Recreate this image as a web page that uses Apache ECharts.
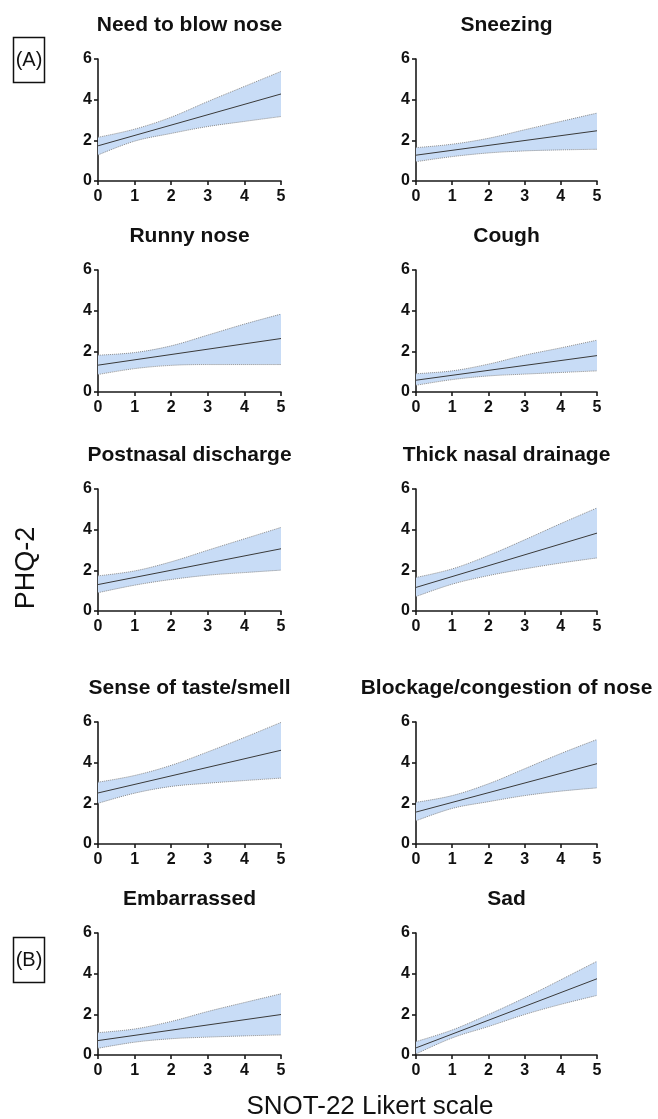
<!DOCTYPE html>
<html>
<head>
<meta charset="utf-8">
<script src="https://cdn.jsdelivr.net/npm/echarts@6/dist/echarts.min.js"></script>
<style>
html,body{margin:0;padding:0;background:#fff;}
#chart{width:658px;height:1119px;}
</style>
</head>
<body>
<div id="chart"></div>
<script>
// ---- data ----
const xTicks = ['0', '1', '2', '3', '4', '5'];
const yTicks = [0, 2, 4, 6];
const titles = [
  'Need to blow nose', 'Sneezing',
  'Runny nose', 'Cough',
  'Postnasal discharge', 'Thick nasal drainage',
  'Sense of taste/smell', 'Blockage/congestion of nose',
  'Embarrassed', 'Sad'
];
// fitted line: value at x=0 and at x=5
const meanStart = [1.73, 1.27, 1.32, 0.58, 1.30, 1.16, 2.51, 1.57, 0.71, 0.35];
const meanEnd   = [4.28, 2.47, 2.63, 1.79, 3.06, 3.83, 4.61, 3.95, 1.99, 3.75];
// confidence band, upper and lower, at x = 0..5
const upperBlowNose   = [2.15, 2.55, 3.14, 3.91, 4.65, 5.39];
const lowerBlowNose   = [1.28, 1.96, 2.34, 2.68, 2.93, 3.17];
const upperSneezing   = [1.64, 1.81, 2.10, 2.52, 2.93, 3.34];
const lowerSneezing   = [0.95, 1.20, 1.38, 1.48, 1.53, 1.56];
const upperRunny      = [1.81, 1.94, 2.27, 2.80, 3.34, 3.83];
const lowerRunny      = [0.86, 1.15, 1.31, 1.35, 1.35, 1.35];
const upperCough      = [0.90, 1.04, 1.37, 1.81, 2.17, 2.55];
const lowerCough      = [0.33, 0.61, 0.79, 0.88, 0.96, 1.04];
const upperPostnasal  = [1.73, 1.97, 2.42, 2.99, 3.55, 4.11];
const lowerPostnasal  = [0.90, 1.27, 1.55, 1.76, 1.89, 2.01];
const upperThick      = [1.65, 2.07, 2.73, 3.50, 4.30, 5.07];
const lowerThick      = [0.71, 1.32, 1.74, 2.07, 2.36, 2.61];
const upperTaste      = [3.04, 3.37, 3.87, 4.53, 5.24, 5.98];
const lowerTaste      = [2.00, 2.50, 2.83, 2.99, 3.12, 3.24];
const upperBlockage   = [2.05, 2.38, 2.96, 3.70, 4.45, 5.14];
const lowerBlockage   = [1.14, 1.75, 2.08, 2.38, 2.60, 2.76];
const upperEmbarrassed= [1.10, 1.28, 1.65, 2.14, 2.58, 3.01];
const lowerEmbarrassed= [0.33, 0.63, 0.80, 0.88, 0.94, 0.99];
const upperSad        = [0.66, 1.23, 1.99, 2.81, 3.70, 4.61];
const lowerSad        = [0.05, 0.84, 1.40, 1.99, 2.49, 2.93];

const upperBands = [upperBlowNose, upperSneezing, upperRunny, upperCough, upperPostnasal,
  upperThick, upperTaste, upperBlockage, upperEmbarrassed, upperSad];
const lowerBands = [lowerBlowNose, lowerSneezing, lowerRunny, lowerCough, lowerPostnasal,
  lowerThick, lowerTaste, lowerBlockage, lowerEmbarrassed, lowerSad];

// ---- layout ----
const FONT = '"Liberation Sans", Arial, Helvetica, sans-serif';
const colLeft = [98, 416];
const colWidth = [183, 181];
const rowTop = [59, 270, 489, 722, 933];
const plotH = 122;

const grids = [], xAxes = [], yAxes = [], series = [], graphics = [];
titles.forEach((t, i) => {
  const c = i % 2, r = Math.floor(i / 2);
  grids.push({left: colLeft[c], top: rowTop[r], width: colWidth[c], height: plotH});
  const lineCol = '#1a1a1a';
  const label = {color: '#111', fontWeight: 'bold', fontSize: 16, fontFamily: FONT};
  xAxes.push({
    type: 'category', gridIndex: i, data: xTicks, boundaryGap: false,
    axisLine: {show: true, onZero: false, lineStyle: {color: lineCol, width: 1.6}},
    axisTick: {show: true, inside: false, length: 4, alignWithLabel: true, lineStyle: {color: lineCol, width: 1.6}},
    splitLine: {show: false},
    axisLabel: Object.assign({margin: 8, interval: 0}, label)
  });
  yAxes.push({
    type: 'value', gridIndex: i, min: yTicks[0], max: yTicks[yTicks.length - 1], interval: 2,
    axisLine: {show: true, onZero: false, lineStyle: {color: lineCol, width: 1.6}},
    axisTick: {show: true, inside: false, length: 4, lineStyle: {color: lineCol, width: 1.6}},
    splitLine: {show: false},
    axisLabel: Object.assign({margin: 6}, label)
  });
  const lo = lowerBands[i], up = upperBands[i];
  series.push({
    type: 'line', xAxisIndex: i, yAxisIndex: i, stack: 'ci' + i, smooth: 0.35,
    symbol: 'none', silent: true, z: 2,
    lineStyle: {color: '#8c8c8c', width: 1, type: 'dotted'},
    data: lo.slice()
  });
  series.push({
    type: 'line', xAxisIndex: i, yAxisIndex: i, stack: 'ci' + i, smooth: 0.35,
    symbol: 'none', silent: true, z: 2,
    lineStyle: {color: '#8c8c8c', width: 1, type: 'dotted'},
    areaStyle: {color: '#c8dcf6', opacity: 1},
    data: up.map((v, j) => v - lo[j])
  });
  series.push({
    type: 'line', xAxisIndex: i, yAxisIndex: i, symbol: 'none', silent: true, z: 3,
    connectNulls: true,
    lineStyle: {color: '#3a3a3a', width: 1},
    data: xTicks.map((x, j) => j === 0 ? meanStart[i] : (j === xTicks.length - 1 ? meanEnd[i] : null))
  });
  graphics.push({
    type: 'text', x: colLeft[c] + colWidth[c] / 2, y: rowTop[r] - 34,
    style: {text: t, textAlign: 'center', textVerticalAlign: 'middle',
      font: 'bold 21px ' + FONT, fill: '#111'}
  });
});

// panel labels
[['(A)', 37], ['(B)', 937]].forEach(([s, y]) => {
  graphics.push({type: 'rect', shape: {x: 13.5, y: y + 0.5, width: 31, height: 45},
    style: {fill: 'none', stroke: '#111', lineWidth: 1.5}});
  graphics.push({type: 'text', x: 29, y: y + 23,
    style: {text: s, textAlign: 'center', textVerticalAlign: 'middle', font: '20px ' + FONT, fill: '#111'}});
});
// shared axis titles
graphics.push({type: 'text', x: 27, y: 568, rotation: Math.PI / 2,
  style: {text: 'PHQ-2', textAlign: 'center', textVerticalAlign: 'middle', font: '27px ' + FONT, fill: '#111'}});
graphics.push({type: 'text', x: 370, y: 1107,
  style: {text: 'SNOT-22 Likert scale', textAlign: 'center', textVerticalAlign: 'middle', font: '26px ' + FONT, fill: '#111'}});

const chart = echarts.init(document.getElementById('chart'), null, {renderer: 'canvas'});
chart.setOption({
  animation: false,
  backgroundColor: '#fff',
  grid: grids, xAxis: xAxes, yAxis: yAxes, series: series, graphic: graphics
});
</script>
</body>
</html>
